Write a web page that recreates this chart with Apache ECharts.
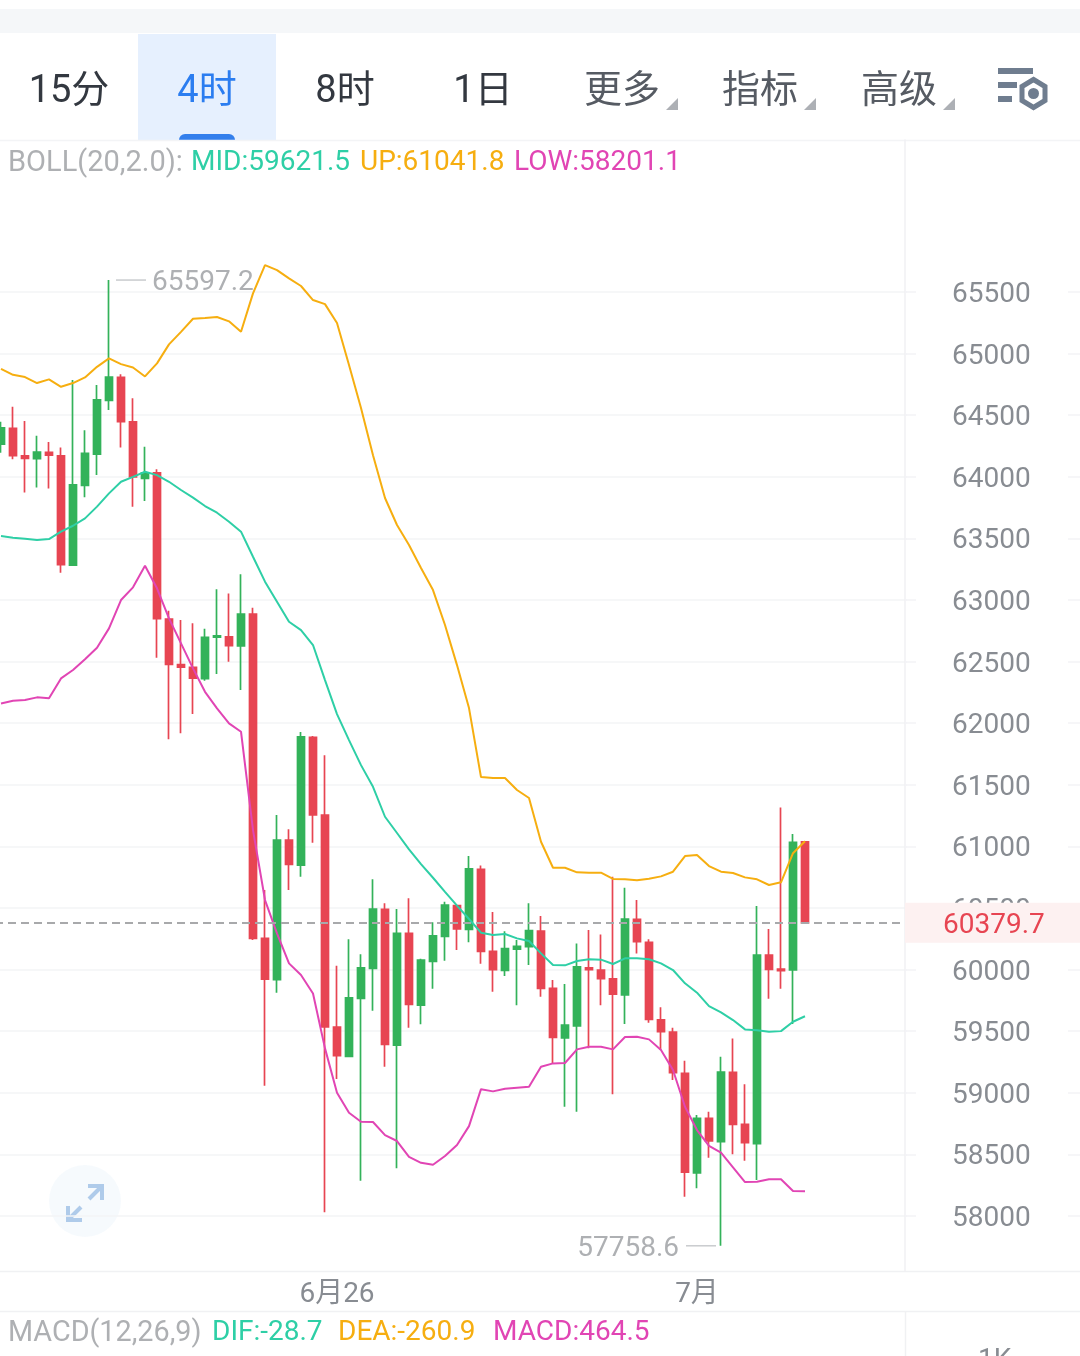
<!DOCTYPE html>
<html lang="zh">
<head>
<meta charset="utf-8">
<title>BTC 4时 K线</title>
<script src="https://cdn.jsdelivr.net/npm/echarts@6/dist/echarts.min.js"></script>
<style>
  html, body { margin: 0; padding: 0; background: #fff; }
  #chart { width: 1080px; height: 1356px; }
</style>
</head>
<body>
<div id="chart"></div>
<script>
// 4-hour candles: [open, close, low, high]
const candles = [
  [64266,64398,64195,64447],[64393,64171,64142,64569],[64171,64150,63873,64453],[64147,64201,63914,64333],
  [64198,64176,63906,64282],[64171,63287,63222,64239],[63284,63935,63284,64785],[63931,64190,63834,64379],
  [64185,64625,64014,64745],[64621,64810,64542,65597.2],[64807,64447,64239,64832],[64447,64000,63758,64637],
  [63987,64033,63804,64244],[64033,62848,62532,64061],[62846,62478,61871,62913],[62475,62456,61918,62838],
  [62454,62367,62074,62811],[62361,62697,62345,62767],[62699,62710,62399,63087],[62702,62629,62499,63054],
  [62627,62886,62269,63209],[62886,60254,60240,62937],[60254,59923,59058,60646],[59918,61052,59812,61255],
  [61052,60855,60646,61139],[60849,61890,60754,61928],[61885,61257,61030,61896],[61255,59536,58030,61741],
  [59534,59301,59112,60031],[59296,59772,59293,60246],[59767,60015,58287,60124],[60010,60492,59666,60733],
  [60490,59393,59212,60538],[59388,60295,58387,60492],[60295,59718,59528,60579],[59712,60078,59556,60088],
  [60067,60275,59845,60384],[60270,60524,60072,60551],[60519,60330,60159,60524],[60327,60819,60222,60922],
  [60814,60149,60048,60846],[60149,59999,59820,60468],[59994,60170,59948,60311],[60167,60189,59712,60240],
  [60186,60316,60037,60538],[60313,59848,59780,60435],[59848,59450,59239,59915],[59447,59550,58887,59883],
  [59544,60023,58847,60213],[60015,59999,59361,60321],[59997,59926,59712,60286],[59926,59802,58988,60754],
  [59796,60411,59558,60665],[60408,60227,60132,60565],[60222,59596,59569,60246],[59593,59496,59347,59694],
  [59493,59163,59104,59528],[59158,58357,58157,59260],[58351,58793,58225,58820],[58793,58609,58474,58847],
  [58603,59168,57758.6,59293],[59166,58744,58501,59442],[58744,58595,58449,59069],[58587,60118,58292,60516],
  [60118,60002,59764,60329],[60005,59991,59845,61317],[59997,61033,59558,61100],[61037,60379.7,60371,61042]
];

// Bollinger bands (20, 2.0)
const bollUp = [
  64877,64828,64810,64761,64791,64731,64761,64807,64893,64961,64915,64888,64815,64921,65075,65177,65283,
  65289,65297,65262,65177,65489,65719,65678,65611,65549,65435,65402,65248,64907,64558,64176,63828,63609,
  63447,63260,63081,62797,62472,62123,61563,61555,61555,61458,61393,61038,60827,60827,60790,60787,60787,
  60736,60733,60725,60738,60757,60795,60922,60930,60841,60795,60784,60749,60733,60687,60709,60945,61041.8
];
const bollMid = [
  63520,63506,63498,63487,63495,63555,63603,63663,63758,63866,63960,64000,64041,64014,63960,63893,63831,
  63763,63709,63636,63555,63351,63149,62986,62824,62756,62635,62350,62074,61863,61660,61484,61241,61109,
  60976,60857,60746,60632,60519,60411,60300,60281,60289,60254,60232,60132,60037,60035,60070,60084,60081,
  60046,60092,60092,60084,60051,59997,59889,59813,59704,59653,59591,59515,59509,59496,59501,59577,59621.5
];
const bollLow = [
  62161,62182,62188,62210,62202,62364,62432,62519,62613,62770,63000,63103,63279,63095,62851,62648,62445,
  62255,62121,61999,61931,61133,60565,60295,60051,59956,59807,59361,59001,58838,58765,58763,58657,58609,
  58481,58432,58416,58487,58576,58730,59030,59012,59033,59041,59049,59212,59239,59242,59353,59374,59374,
  59353,59453,59455,59434,59347,59185,58887,58698,58570,58514,58395,58276,58278,58298,58298,58203,58201.1
];

const priceTicks = [58000,58500,59000,59500,60000,60500,61000,61500,62000,62500,63000,63500,64000,64500,65000,65500];
const priceMin = 57554;
const priceMax = 66734;
const lastPrice = 60379.7;
const highMark = [9, 65597.2];
const lowMark = [60, 57758.6];

// The x axis has room for empty slots right of the newest candle
const slotCount = 76;
const dateTicks = { 28: '6月26', 58: '7月' };
const categories = Array.from({ length: slotCount }, (_, i) => dateTicks[i] || '');

const macdDif = '-28.7';
const macdDea = '-260.9';
const macdHist = '464.5';

const toolbarTabs = [
  { text: '15分', x: 69, color: '#333840' },
  { text: '4时', x: 207, color: '#2b7df0' },
  { text: '8时', x: 345, color: '#333840' },
  { text: '1日', x: 483, color: '#333840' },
  { text: '更多', x: 622, color: '#565b63' },
  { text: '指标', x: 760, color: '#565b63' },
  { text: '高级', x: 899, color: '#565b63' }
];
const dropdownCorners = [678, 816, 955];

const RED = '#e74552';
const GREEN = '#33b25a';
const TEAL = '#2ecfa6';
const GOLD = '#f6ae10';
const PINK = '#e145b4';
const GRID = '#f3f4f6';
const LABEL_GRAY = '#aeb0b3';
const FONT = 'Roboto, "Noto Sans CJK SC", sans-serif';

function hline(y, x1, x2, color) {
  return { type: 'line', shape: { x1, y1: y, x2, y2: y }, style: { stroke: color, lineWidth: 1.5 }, silent: true };
}
function vline(x, y1, y2, color) {
  return { type: 'line', shape: { x1: x, y1, x2: x, y2 }, style: { stroke: color, lineWidth: 1.5 }, silent: true };
}

// Tab bar, settings icon, pane separators and the floating expand button
const chrome = [
  { type: 'rect', shape: { x: 0, y: 9, width: 1080, height: 24 }, style: { fill: '#f5f7f9' }, silent: true },
  { type: 'rect', shape: { x: 138, y: 34, width: 138, height: 106 }, style: { fill: '#e6f0fe' }, silent: true },
  { type: 'rect', shape: { x: 179, y: 134, width: 56, height: 6, r: [6, 6, 0, 0] }, style: { fill: '#337fec' }, silent: true },
  hline(140.5, 0, 1080, '#f3f4f6'),
  hline(1271.5, 0, 1080, '#f0f1f3'),
  hline(1311.5, 0, 1080, '#f0f1f3'),
  vline(905.5, 1311, 1356, '#f0f1f3'),
  ...toolbarTabs.map(t => ({
    type: 'text', silent: true, x: t.x, y: 92,
    style: { text: t.text, fill: t.color, font: '38px ' + FONT, align: 'center', verticalAlign: 'middle' }
  })),
  ...dropdownCorners.map(x => ({
    type: 'polygon', silent: true,
    shape: { points: [[x, 98], [x, 110], [x - 12, 110]] }, style: { fill: '#adb0b5' }
  })),
  { type: 'rect', shape: { x: 998, y: 68, width: 35, height: 6 }, style: { fill: '#6f7d8f' }, silent: true },
  { type: 'rect', shape: { x: 998, y: 82, width: 19, height: 6 }, style: { fill: '#6f7d8f' }, silent: true },
  { type: 'rect', shape: { x: 998, y: 96, width: 14, height: 6 }, style: { fill: '#6f7d8f' }, silent: true },
  {
    type: 'polygon', silent: true,
    shape: { points: [[1033.5, 79.5], [1045, 86.5], [1045, 100.5], [1033.5, 107.5], [1022, 100.5], [1022, 86.5]] },
    style: { fill: '#fff', stroke: '#6f7d8f', lineWidth: 5 }
  },
  { type: 'circle', shape: { cx: 1033.5, cy: 93.5, r: 5.5 }, style: { fill: '#6f7d8f' }, silent: true },
  { type: 'circle', shape: { cx: 85, cy: 1201, r: 36 }, style: { fill: '#f5f9fd', opacity: 0.9 }, silent: true },
  ...[
    [[88, 1186], [102, 1186], [102, 1200]], [[102, 1186], [89, 1199]],
    [[68, 1206], [68, 1220], [82, 1220]], [[68, 1220], [81, 1207]]
  ].map(points => ({
    type: 'polyline', silent: true, shape: { points },
    style: { stroke: '#afcbea', lineWidth: 4, fill: null }
  })),
  {
    type: 'text', silent: true, x: 978, y: 1347,
    style: { text: '1K', fill: '#888c92', font: '28px ' + FONT, align: 'left', verticalAlign: 'top' }
  }
];

// One title per indicator reading, so each sits at its own column
function legendPiece(text, left, top, color, fontSize) {
  return {
    text, left, top, padding: 0,
    textStyle: { color, fontSize: fontSize || 28, fontFamily: FONT, fontWeight: 'normal' }
  };
}
const legendPieces = [
  legendPiece('BOLL(20,2.0):', 8, 149, LABEL_GRAY, 29),
  legendPiece('MID:' + bollMid[bollMid.length - 1], 191, 149, TEAL),
  legendPiece('UP:' + bollUp[bollUp.length - 1], 360, 149, GOLD),
  legendPiece('LOW:' + bollLow[bollLow.length - 1], 514, 149, PINK),
  legendPiece('MACD(12,26,9)', 8, 1319, LABEL_GRAY, 28.75),
  legendPiece('DIF:' + macdDif, 212, 1319, TEAL),
  legendPiece('DEA:' + macdDea, 338, 1319, GOLD),
  legendPiece('MACD:' + macdHist, 493, 1319, PINK)
];

function bandSeries(name, data, color) {
  return {
    name, type: 'line', data, xAxisIndex: 0, yAxisIndex: 0, z: 4,
    symbol: 'none', silent: true,
    lineStyle: { color, width: 2 }
  };
}

const chart = echarts.init(document.getElementById('chart'), null, { renderer: 'canvas' });
chart.setOption({
  animation: false,
  backgroundColor: '#fff',
  title: legendPieces,
  grid: [
    { left: -5, top: 140, width: 912, height: 1131, outerBoundsMode: 'none' },
    { left: 905, top: 140, width: 175, height: 1131, outerBoundsMode: 'none' }
  ],
  xAxis: [
    {
      type: 'category', gridIndex: 0, data: categories, boundaryGap: true,
      axisLine: { show: false }, axisTick: { show: false }, splitLine: { show: false },
      axisLabel: { interval: 0, margin: 10, color: '#888c92', fontSize: 28, fontFamily: FONT, hideOverlap: false }
    },
    { type: 'category', gridIndex: 1, data: [''], show: false }
  ],
  yAxis: [
    {
      type: 'value', gridIndex: 0, position: 'right', min: priceMin, max: priceMax,
      axisLine: { show: false }, axisLabel: { show: false },
      axisTick: { show: false, customValues: priceTicks },
      splitLine: { show: true, lineStyle: { color: GRID, width: 1.5 } }
    },
    {
      type: 'value', gridIndex: 1, position: 'left', min: priceMin, max: priceMax,
      axisLine: { show: true, lineStyle: { color: '#f0f1f3', width: 1.5 } },
      axisTick: { show: true, inside: true, length: 11, customValues: priceTicks, lineStyle: { color: GRID, width: 1.5 } },
      axisLabel: {
        show: true, inside: true, margin: 47, customValues: priceTicks, align: 'left',
        formatter: v => `{v|${v}}`,
        rich: { v: { color: '#888c92', fontSize: 28, fontFamily: FONT, padding: [6, 0, 0, 0] } }
      },
      splitLine: { show: false }
    },
    {
      type: 'value', gridIndex: 1, position: 'right', min: priceMin, max: priceMax,
      axisLine: { show: false }, axisLabel: { show: false },
      axisTick: { show: true, inside: true, length: 12, customValues: priceTicks, lineStyle: { color: GRID, width: 1.5 } },
      splitLine: { show: false }
    }
  ],
  series: [
    {
      name: 'K', type: 'candlestick', data: candles, xAxisIndex: 0, yAxisIndex: 0, z: 2,
      barWidth: 7, silent: true,
      itemStyle: { color: GREEN, color0: RED, borderColor: GREEN, borderColor0: RED, borderWidth: 1.7 },
      markPoint: {
        silent: true, animation: false, z: 6,
        label: { color: LABEL_GRAY, fontSize: 28, fontFamily: FONT },
        data: [
          {
            coord: highMark, symbol: 'rect', symbolSize: [30, 1.5], symbolOffset: [22, 0],
            itemStyle: { color: '#c9cbce' },
            label: { show: true, position: 'right', distance: 6, offset: [0, 3], formatter: String(highMark[1]) }
          },
          {
            coord: lowMark, symbol: 'rect', symbolSize: [30, 1.5], symbolOffset: [-20, 0],
            itemStyle: { color: '#c9cbce' },
            label: { show: true, position: 'left', distance: 7, offset: [0, 3], formatter: String(lowMark[1]) }
          }
        ]
      },
      markLine: {
        silent: true, animation: false, symbol: 'none', z: 6,
        lineStyle: { color: '#a8a9ab', type: [8, 5], width: 2 },
        label: {
          show: true, position: 'end', distance: -2,
          formatter: `{p|${lastPrice}}`,
          rich: {
            p: {
              color: RED, fontSize: 28, fontFamily: FONT,
              backgroundColor: '#fdf1f1', padding: [9, 38, 3, 38]
            }
          }
        },
        data: [{ yAxis: lastPrice }]
      }
    },
    bandSeries('UP', bollUp, GOLD),
    bandSeries('MID', bollMid, TEAL),
    bandSeries('LOW', bollLow, PINK)
  ],
  graphic: { elements: chrome }
});
</script>
</body>
</html>
